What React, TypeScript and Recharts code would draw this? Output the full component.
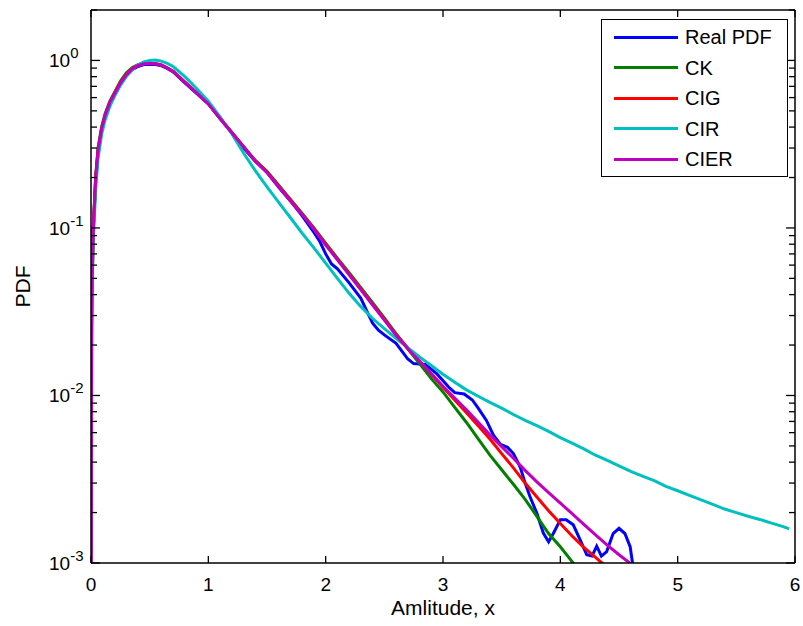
import { Label, Legend, Line, LineChart, ReferenceLine, XAxis, YAxis } from "recharts";

const FONT = '"Liberation Sans", Arial, Helvetica, sans-serif';

// amplitude grid used by the four fitted models
const amp = [
  0, 0.005, 0.01, 0.02, 0.04, 0.06, 0.09, 0.12, 0.16, 0.2, 0.25, 0.3, 0.35, 0.4, 0.45, 0.5, 0.55, 0.6, 0.65,
  0.7, 0.8, 0.9, 1.0, 1.1, 1.2, 1.3, 1.4, 1.5, 1.6, 1.7, 1.8, 1.9, 2.0, 2.1, 2.2, 2.3, 2.4, 2.5, 2.6, 2.7,
  2.8, 2.9, 3.0, 3.1, 3.2, 3.3, 3.4, 3.5, 3.6, 3.7, 3.8, 3.9, 4.0, 4.1, 4.2, 4.3, 4.4, 4.5, 4.6, 4.7, 4.8,
  4.9, 5.0, 5.1, 5.2, 5.3, 5.4, 5.5, 5.6, 5.7, 5.8, 5.9, 5.95,
];

const ck = [
  1e-5, 0.026, 0.052, 0.104, 0.205, 0.3, 0.4, 0.48, 0.57, 0.645, 0.75, 0.84, 0.905, 0.945, 0.962, 0.965,
  0.955, 0.935, 0.9, 0.86, 0.742, 0.642, 0.552, 0.452, 0.372, 0.307, 0.253, 0.218, 0.18, 0.148, 0.122, 0.1,
  0.081, 0.066, 0.054, 0.044, 0.0358, 0.029, 0.0234, 0.019, 0.0155, 0.0126, 0.0105, 0.0085, 0.0069, 0.0055,
  0.0044, 0.0036, 0.00295, 0.0024, 0.0019, 0.0015, 0.00125, 0.00102, 0.00083,
];

const cig = [
  1e-5, 0.025, 0.05, 0.1, 0.2, 0.29, 0.39, 0.47, 0.56, 0.635, 0.735, 0.825, 0.895, 0.935, 0.958, 0.962,
  0.956, 0.94, 0.902, 0.862, 0.742, 0.642, 0.552, 0.452, 0.372, 0.306, 0.252, 0.216, 0.178, 0.147, 0.121,
  0.099, 0.08, 0.0652, 0.053, 0.0432, 0.0351, 0.0285, 0.0231, 0.0192, 0.0161, 0.0134, 0.0112, 0.0094, 0.0079,
  0.0066, 0.0055, 0.0045, 0.0037, 0.003, 0.00248, 0.00205, 0.00172, 0.00145, 0.00124, 0.00108, 0.00094,
];

const cir = [
  1e-5, 0.02, 0.042, 0.085, 0.17, 0.26, 0.36, 0.44, 0.53, 0.61, 0.71, 0.8, 0.88, 0.94, 0.98, 1.0, 1.005,
  0.99, 0.96, 0.92, 0.8, 0.68, 0.57, 0.46, 0.365, 0.28, 0.22, 0.176, 0.142, 0.115, 0.093, 0.076, 0.0617,
  0.05, 0.0407, 0.0339, 0.0288, 0.0251, 0.0219, 0.0193, 0.017, 0.0151, 0.0134, 0.012, 0.0108, 0.0099,
  0.0091, 0.0084, 0.0077, 0.0071, 0.0066, 0.0061, 0.0056, 0.0052, 0.0048, 0.0044, 0.0041, 0.0038, 0.00352,
  0.0033, 0.0031, 0.00287, 0.0027, 0.00253, 0.00238, 0.00224, 0.0021, 0.002, 0.0019, 0.00182, 0.00173,
  0.00165, 0.0016,
];

const cier = [
  1e-5, 0.025, 0.05, 0.1, 0.2, 0.29, 0.39, 0.47, 0.56, 0.63, 0.73, 0.82, 0.89, 0.93, 0.955, 0.96, 0.955,
  0.94, 0.9, 0.86, 0.74, 0.64, 0.55, 0.45, 0.37, 0.305, 0.25, 0.214, 0.176, 0.145, 0.12, 0.098, 0.079,
  0.0646, 0.0525, 0.0427, 0.0347, 0.0282, 0.0229, 0.019, 0.016, 0.0135, 0.01135, 0.00966, 0.00822, 0.00692,
  0.00582, 0.00495, 0.00422, 0.00357, 0.00305, 0.00263, 0.00228, 0.00197, 0.0017, 0.00147, 0.00128,
  0.00112, 0.00099, 0.00088,
];

// measured histogram, own grid
const realX = [
  0, 0.02, 0.04, 0.06, 0.09, 0.12, 0.16, 0.2, 0.25, 0.3, 0.35, 0.4, 0.45, 0.5, 0.55, 0.6, 0.65, 0.7, 0.8, 0.9,
  1.0, 1.1, 1.2, 1.3, 1.4, 1.5, 1.6, 1.7, 1.8, 1.9, 1.95, 2.0, 2.05, 2.1, 2.2, 2.3, 2.35, 2.4, 2.45, 2.5,
  2.6, 2.7, 2.75, 2.85, 2.95, 3.05, 3.1, 3.18, 3.25, 3.3, 3.37, 3.43, 3.49, 3.55, 3.6, 3.63, 3.66, 3.7, 3.74,
  3.8, 3.855, 3.9, 3.94, 4.0, 4.05, 4.11, 4.17, 4.225, 4.27, 4.31, 4.35, 4.395, 4.45, 4.5, 4.55, 4.595, 4.62,
  4.64,
];
const realY = [
  0.065, 0.1, 0.19, 0.28, 0.38, 0.46, 0.55, 0.62, 0.72, 0.81, 0.88, 0.92, 0.945, 0.95, 0.945, 0.93, 0.895,
  0.855, 0.735, 0.635, 0.55, 0.45, 0.37, 0.3, 0.25, 0.215, 0.175, 0.145, 0.118, 0.094, 0.083, 0.07, 0.061,
  0.057, 0.047, 0.038, 0.032, 0.027, 0.0245, 0.023, 0.0205, 0.0165, 0.0155, 0.0153, 0.0134, 0.0112, 0.0104,
  0.0102, 0.0094, 0.0084, 0.0071, 0.0058, 0.0051, 0.0049, 0.0045, 0.0041, 0.0037, 0.003, 0.0025, 0.00198,
  0.00151, 0.00134, 0.0015, 0.00181, 0.00181, 0.00169, 0.00137, 0.00112, 0.0011, 0.00126, 0.0011, 0.00117,
  0.0015, 0.00161, 0.0015, 0.00125, 0.00095, 0.0008,
];

const xTicks = [0, 1, 2, 3, 4, 5, 6];
const yMajor = [0.001, 0.01, 0.1, 1];
const yExp = ["-3", "-2", "-1", "0"];
const yTicks = yMajor
  .flatMap((d) => [1, 2, 3, 4, 5, 6, 7, 8, 9].map((m) => m * d))
  .filter((v) => v <= 2);

const W = 803;
const H = 626;
const Y_AXIS_W = 91;
const X_AXIS_H = 63;
const MARGIN = { top: 10, right: 8, left: 0, bottom: 0 };
const PLOT_W = W - Y_AXIS_W - MARGIN.right;
const PLOT_H = H - MARGIN.top - X_AXIS_H;

const toPoints = (xs: number[], ys: number[]) => ys.map((y, i) => ({ x: xs[i], y }));

const series = [
  { name: "Real PDF", color: "#0000ff", data: toPoints(realX, realY) },
  { name: "CK", color: "#008000", data: toPoints(amp, ck) },
  { name: "CIG", color: "#ff0000", data: toPoints(amp, cig) },
  { name: "CIR", color: "#00bfbf", data: toPoints(amp, cir) },
  { name: "CIER", color: "#bf00bf", data: toPoints(amp, cier) },
];

// inward ticks on both sides, like the MATLAB box
function YTick(props: any) {
  const { x, y, payload } = props;
  const idx = yMajor.indexOf(payload.value);
  const len = idx >= 0 ? 9 : 6;
  return (
    <g>
      <line x1={x} x2={x + len} y1={y} y2={y} stroke="#000" strokeWidth={1.3} />
      <line x1={x + PLOT_W} x2={x + PLOT_W - len} y1={y} y2={y} stroke="#000" strokeWidth={1.3} />
      {idx >= 0 && (
        <text x={x - 42} y={y + 7} fontSize={19} fontFamily={FONT} fill="#000">
          10
          <tspan dy={-9} fontSize={15}>
            {yExp[idx]}
          </tspan>
        </text>
      )}
    </g>
  );
}

function XTick(props: any) {
  const { x, y, payload } = props;
  return (
    <g>
      <line x1={x} x2={x} y1={y} y2={y - 7} stroke="#000" strokeWidth={1.3} />
      <line x1={x} x2={x} y1={y - PLOT_H} y2={y - PLOT_H + 7} stroke="#000" strokeWidth={1.3} />
      <text x={x} y={y + 28} textAnchor="middle" fontSize={19} fontFamily={FONT} fill="#000">
        {payload.value}
      </text>
    </g>
  );
}

function LegendBox() {
  return (
    <div
      style={{
        position: "relative",
        boxSizing: "border-box",
        width: 187,
        height: 158,
        border: "1px solid #000",
        background: "#fff",
        fontFamily: FONT,
        fontSize: 20,
        color: "#000",
      }}
    >
      {series.map((s, i) => {
        const cy = 17 + i * 30.5;
        return (
          <div key={s.name}>
            <div
              style={{ position: "absolute", left: 12, top: cy - 1.5, width: 64, height: 3, background: s.color }}
            />
            <div style={{ position: "absolute", left: 83, top: cy - 12, lineHeight: "24px", whiteSpace: "nowrap" }}>
              {s.name}
            </div>
          </div>
        );
      })}
    </div>
  );
}

export default function App() {
  return (
    <div style={{ position: "absolute", left: 0, top: 0, width: W, height: H, background: "#fff" }}>
      <LineChart width={W} height={H} margin={MARGIN}>
        <XAxis
          type="number"
          dataKey="x"
          domain={[0, 6]}
          ticks={xTicks}
          interval={0}
          height={X_AXIS_H}
          tickSize={0}
          tickMargin={0}
          tickLine={false}
          tick={XTick}
          axisLine={{ stroke: "#000", strokeWidth: 1.5 }}
          allowDataOverflow
        >
          <Label value="Amlitude, x" position="insideBottom" offset={11} fontSize={21} fontFamily={FONT} fill="#000" />
        </XAxis>
        <YAxis
          type="number"
          dataKey="y"
          scale="log"
          domain={[0.001, 2]}
          ticks={yTicks}
          interval={0}
          width={Y_AXIS_W}
          tickSize={0}
          tickMargin={0}
          tickLine={false}
          tick={YTick}
          axisLine={{ stroke: "#000", strokeWidth: 1.5 }}
          allowDataOverflow
        >
          <Label
            content={(p: any) => {
              const vb = p.viewBox || { x: 0, y: MARGIN.top, height: PLOT_H };
              const cx = vb.x + 30;
              const cy = vb.y + vb.height / 2;
              return (
                <text
                  x={cx}
                  y={cy}
                  transform={`rotate(-90 ${cx} ${cy})`}
                  textAnchor="middle"
                  fontSize={21}
                  fontFamily={FONT}
                  fill="#000"
                >
                  PDF
                </text>
              );
            }}
          />
        </YAxis>
        {series.map((s) => (
          <Line
            key={s.name}
            data={s.data}
            dataKey="y"
            name={s.name}
            type="linear"
            stroke={s.color}
            strokeWidth={3}
            dot={false}
            activeDot={false}
            isAnimationActive={false}
          />
        ))}
        <ReferenceLine y={2} stroke="#000" strokeWidth={1.5} />
        <ReferenceLine x={6} stroke="#000" strokeWidth={1.5} />
        <Legend
          layout="horizontal"
          verticalAlign="middle"
          align="center"
          wrapperStyle={{ left: 601, top: 19, width: 187, height: 158 }}
          content={() => <LegendBox />}
        />
      </LineChart>
    </div>
  );
}
